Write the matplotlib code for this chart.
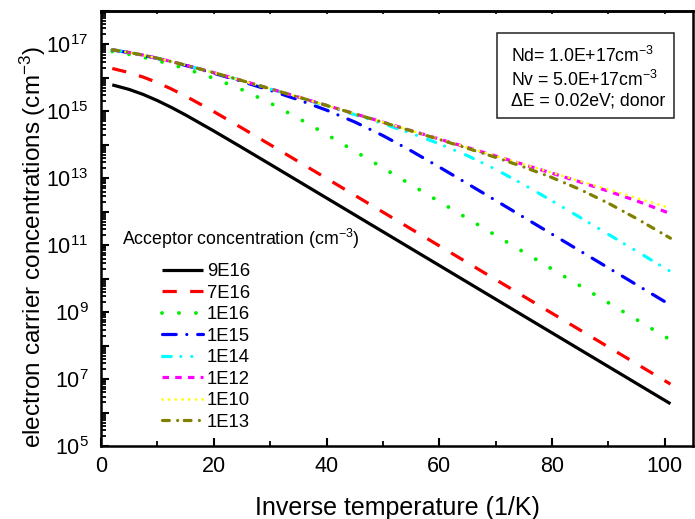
import numpy as np
import matplotlib
matplotlib.use("Agg")
import matplotlib.pyplot as plt
from matplotlib.ticker import LogLocator, FuncFormatter, MultipleLocator, NullFormatter
from matplotlib.patches import Rectangle

plt.rcParams['font.family'] = ['Liberation Sans', 'DejaVu Sans']
plt.rcParams['mathtext.default'] = 'regular'
plt.rcParams['lines.scale_dashes'] = False

# ---------------- data (log10 of electron concentration, cm^-3) ----------------
inv_T = [2, 5, 7.5, 10, 12.5, 15, 20, 25, 30, 35, 40, 45, 50, 55, 60, 65, 70, 75, 80, 85, 90, 95, 101]

labels = ["9E16", "7E16", "1E16", "1E15", "1E14", "1E12", "1E10", "1E13"]

log_n_9E16 = [15.792, 15.656, 15.505, 15.323, 15.117, 14.893, 14.415, 13.920, 13.419, 12.915, 12.412,
              11.908, 11.404, 10.900, 10.396, 9.892, 9.388, 8.884, 8.380, 7.876, 7.372, 6.868, 6.263]
log_n_7E16 = [16.282, 16.160, 16.024, 15.860, 15.669, 15.457, 14.994, 14.503, 14.004, 13.501, 12.998,
              12.494, 11.990, 11.486, 10.982, 10.478, 9.974, 9.470, 8.966, 8.462, 7.958, 7.454, 6.850]
log_n_1E16 = [16.791, 16.705, 16.617, 16.516, 16.402, 16.277, 15.990, 15.650, 15.249, 14.795, 14.311,
              13.813, 13.311, 12.808, 12.304, 11.800, 11.296, 10.792, 10.288, 9.784, 9.280, 8.776, 8.172]
log_n_1E15 = [16.836, 16.755, 16.674, 16.582, 16.481, 16.373, 16.141, 15.893, 15.630, 15.347, 15.037,
              14.684, 14.277, 13.821, 13.336, 12.839, 12.337, 11.833, 11.330, 10.826, 10.322, 9.818, 9.213]
log_n_1E14 = [16.841, 16.761, 16.679, 16.588, 16.488, 16.382, 16.156, 15.917, 15.672, 15.421, 15.165,
              14.903, 14.632, 14.345, 14.032, 13.677, 13.268, 12.810, 12.325, 11.827, 11.325, 10.821, 10.216]
log_n_1E12 = [16.841, 16.761, 16.680, 16.588, 16.489, 16.383, 16.157, 15.920, 15.676, 15.429, 15.180,
              14.929, 14.678, 14.426, 14.173, 13.920, 13.666, 13.411, 13.152, 12.889, 12.616, 12.327, 11.944]
log_n_1E10 = [16.841, 16.761, 16.680, 16.588, 16.489, 16.383, 16.157, 15.920, 15.676, 15.429, 15.180,
              14.929, 14.678, 14.426, 14.175, 13.923, 13.671, 13.419, 13.167, 12.915, 12.663, 12.411, 12.108]
log_n_1E13 = [16.841, 16.761, 16.680, 16.588, 16.489, 16.383, 16.157, 15.920, 15.676, 15.428, 15.179,
              14.927, 14.673, 14.418, 14.160, 13.897, 13.625, 13.337, 13.022, 12.665, 12.254, 11.796, 11.210]

series = [log_n_9E16, log_n_7E16, log_n_1E16, log_n_1E15, log_n_1E14, log_n_1E12, log_n_1E10, log_n_1E13]

x_ticks = [0, 20, 40, 60, 80, 100]
info_lines = ["Nd= 1.0E+17cm$^{-3}$", "Nv = 5.0E+17cm$^{-3}$", "\u0394E = 0.02eV; donor"]

# ---------------- styles ----------------
styles = [
    dict(color="#000000", lw=2.3, ls="-", cap="butt"),
    dict(color="#FF0000", lw=2.3, ls=(0, (10.3, 9.6)), cap="butt"),
    dict(color="#00EE00", lw=2.8, ls=(0, (0.01, 12.2)), cap="round"),
    dict(color="#0000FF", lw=2.3, ls=(0, (9.9, 7.6, 0.01, 7.8)), cap="round"),
    dict(color="#00FFFF", lw=2.3, ls=(0, (6.3, 6.9, 0.01, 7.9, 0.01, 8.4)), cap="round"),
    dict(color="#FF00FF", lw=2.3, ls=(0, (4.7, 4.45)), cap="butt"),
    dict(color="#FFFF00", lw=2.0, ls=(0, (0.01, 4.8)), cap="round"),
    dict(color="#808000", lw=2.3, ls=(0, (4.9, 6.0, 0.01, 4.75)), cap="round"),
]

W, H = 695, 519
fig = plt.figure(figsize=(W / 100, H / 100), dpi=100)
ax = fig.add_axes([101 / W, (H - 446) / H, 592 / W, 435 / H])

x = np.array(inv_T, dtype=float)
handles = []
for lab, ys, st in zip(labels, series, styles):
    ln, = ax.plot(x, 10 ** np.array(ys), color=st["color"], lw=st["lw"], linestyle=st["ls"],
                  dash_capstyle=st["cap"], solid_capstyle="butt", label=lab)
    handles.append(ln)

ax.set_yscale("log")
ax.set_xlim(0, 105)
ax.set_ylim(1e5, 1e18)

ax.set_xticks(x_ticks)
ax.xaxis.set_minor_locator(MultipleLocator(10))
ax.yaxis.set_major_locator(LogLocator(base=10, numticks=30))
ax.yaxis.set_minor_locator(LogLocator(base=10, subs=np.arange(2, 10), numticks=30))
ax.yaxis.set_minor_formatter(NullFormatter())


def yfmt(v, pos):
    e = int(round(np.log10(v)))
    return f"$10^{{{e}}}$" if e % 2 == 1 else ""


ax.yaxis.set_major_formatter(FuncFormatter(yfmt))

for s in ax.spines.values():
    s.set_linewidth(1.8)

ax.tick_params(axis="both", which="major", direction="in", length=5.8, width=1.5, labelsize=15.5)
ax.tick_params(axis="both", which="minor", direction="in", length=3.4, width=1.3)
ax.tick_params(axis="x", which="major", pad=7)
ax.tick_params(axis="y", which="major", pad=9)
ax.tick_params(top=False, right=False)

sec = ax.secondary_xaxis("top")
sec.set_xticks(list(range(0, 101, 10)))
sec.tick_params(direction="in", length=2.5, width=1.2, labeltop=False)
sec.spines["top"].set_linewidth(1.8)

# axis labels
fig.text(397 / W, (H - 515) / H, "Inverse temperature (1/K)", ha="center", va="baseline", fontsize=18)
fig.text(33 / W, (H - 247) / H, "electron carrier concentrations (cm$^{-3}$)", rotation=90,
         ha="center", va="center", fontsize=17.5)

# legend
fig.text(122 / W, (H - 245) / H, "Acceptor concentration (cm$^{-3}$)", ha="left", va="baseline", fontsize=12.8)
leg = ax.legend(handles=handles, loc="upper left", bbox_to_anchor=(162 / W, (H - 263) / H),
                bbox_transform=fig.transFigure, frameon=False, fontsize=13.3, borderpad=0,
                borderaxespad=0, handlelength=2.2, handletextpad=0.22, labelspacing=0.245)

# info box
fig.add_artist(Rectangle((497 / W, (H - 118) / H), 177 / W, 85 / H, transform=fig.transFigure,
                         facecolor="white", edgecolor="#222222", linewidth=1.1))
for txt, yb in zip(info_lines, [61.7, 86, 106]):
    fig.text(511 / W, (H - yb) / H, txt, ha="left", va="baseline", fontsize=12.7)

fig.savefig("out.png", dpi=100)
